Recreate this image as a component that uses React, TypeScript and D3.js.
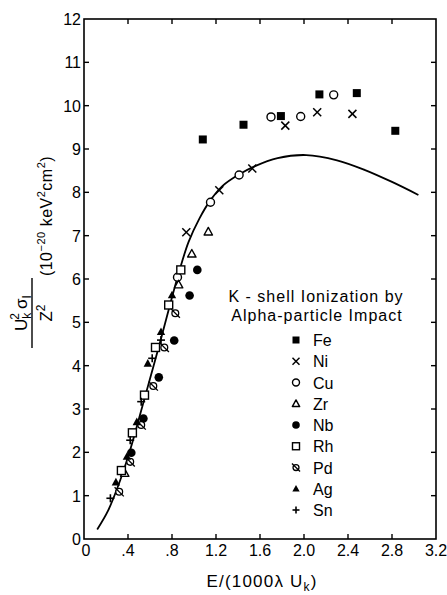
import * as d3 from 'd3'

const W = 447
const H = 595
const PLOT = { left: 84, right: 436, top: 19, bottom: 539 }
const FONT = '"Liberation Sans", Arial, sans-serif'

const X_TICKS = [0, 0.4, 0.8, 1.2, 1.6, 2.0, 2.4, 2.8, 3.2]
const X_TICK_LABELS = ['0', '.4', '.8', '1.2', '1.6', '2.0', '2.4', '2.8', '3.2']
const Y_TICKS = [0, 1, 2, 3, 4, 5, 6, 7, 8, 9, 10, 11, 12]

// measured points, [E/(1000 λ Uk), Uk² σI / Z²]
const FE = [[1.08, 9.22], [1.45, 9.56], [1.79, 9.76], [2.14, 10.26], [2.48, 10.29], [2.83, 9.42]]
const NI = [[0.93, 7.08], [1.23, 8.05], [1.53, 8.55], [1.83, 9.54], [2.12, 9.85], [2.44, 9.81]]
const CU = [[0.85, 6.04], [1.15, 7.77], [1.41, 8.40], [1.70, 9.74], [1.97, 9.75], [2.27, 10.25]]
const ZR = [[0.37, 1.52], [0.86, 5.87], [0.98, 6.58], [1.13, 7.09]]
const NB = [[0.43, 1.99], [0.54, 2.78], [0.68, 3.73], [0.82, 4.58], [0.96, 5.62], [1.03, 6.21]]
const RH = [[0.34, 1.58], [0.44, 2.45], [0.55, 3.32], [0.65, 4.42], [0.77, 5.40], [0.88, 6.21]]
const PD = [[0.32, 1.09], [0.42, 1.78], [0.52, 2.63], [0.63, 3.53], [0.73, 4.42], [0.83, 5.21]]
const AG = [[0.29, 1.31], [0.39, 1.90], [0.48, 2.70], [0.58, 4.05], [0.70, 4.78], [0.80, 5.63]]
const SN = [[0.24, 0.94], [0.42, 2.28], [0.52, 3.17], [0.62, 4.17], [0.70, 4.59]]

// theory curve
const CURVE_X = [0.12, 0.22, 0.33, 0.42, 0.50, 0.60, 0.70, 0.80, 0.88, 0.95, 1.05, 1.15, 1.26, 1.40, 1.55, 1.76, 2.02, 2.30, 2.55, 2.80, 3.04]
const CURVE_Y = [0.22, 0.66, 1.36, 2.06, 2.78, 3.70, 4.62, 5.58, 6.30, 6.85, 7.40, 7.82, 8.15, 8.40, 8.60, 8.79, 8.86, 8.74, 8.52, 8.24, 7.94]

const SERIES = [
  { name: 'Fe', kind: 'fsquare', pts: FE },
  { name: 'Ni', kind: 'cross', pts: NI },
  { name: 'Cu', kind: 'ocircle', pts: CU },
  { name: 'Zr', kind: 'otri', pts: ZR },
  { name: 'Nb', kind: 'fcircle', pts: NB },
  { name: 'Rh', kind: 'osquare', pts: RH },
  { name: 'Pd', kind: 'slash', pts: PD },
  { name: 'Ag', kind: 'ftri', pts: AG },
  { name: 'Sn', kind: 'plus', pts: SN },
]

function Marker({ kind, x, y, s }: { kind: string; x: number; y: number; s: number }) {
  const h = s / 2
  const sw = 1.4
  switch (kind) {
    case 'fsquare':
      return <rect x={x - h} y={y - h} width={s} height={s} fill="#000" />
    case 'osquare':
      return <rect x={x - h} y={y - h} width={s} height={s} fill="#fff" stroke="#000" strokeWidth={sw} />
    case 'ocircle':
      return <circle cx={x} cy={y} r={h} fill="#fff" stroke="#000" strokeWidth={sw} />
    case 'fcircle':
      return <circle cx={x} cy={y} r={h + 0.3} fill="#000" />
    case 'otri':
    case 'ftri': {
      const pts = `${x},${y - h * 1.1} ${x + h * 1.05},${y + h * 0.8} ${x - h * 1.05},${y + h * 0.8}`
      return kind === 'otri'
        ? <polygon points={pts} fill="#fff" stroke="#000" strokeWidth={sw} strokeLinejoin="round" />
        : <polygon points={pts} fill="#000" />
    }
    case 'cross':
      return (
        <g stroke="#000" strokeWidth={1.5}>
          <line x1={x - h} y1={y - h} x2={x + h} y2={y + h} />
          <line x1={x - h} y1={y + h} x2={x + h} y2={y - h} />
        </g>
      )
    case 'plus':
      return (
        <g stroke="#000" strokeWidth={1.6}>
          <line x1={x - h} y1={y} x2={x + h} y2={y} />
          <line x1={x} y1={y - h} x2={x} y2={y + h} />
        </g>
      )
    case 'slash':
      return (
        <g stroke="#000" strokeWidth={1.3}>
          <circle cx={x} cy={y} r={h * 0.85} fill="#fff" />
          <line x1={x - h * 1.15} y1={y - h * 1.15} x2={x + h * 1.15} y2={y + h * 1.15} />
        </g>
      )
    default:
      return null
  }
}

export default function App() {
  const x = d3.scaleLinear().domain([0, 3.2]).range([PLOT.left, PLOT.right])
  const y = d3.scaleLinear().domain([0, 12]).range([PLOT.bottom, PLOT.top])
  const curvePts = CURVE_X.map((cx, i) => [cx, CURVE_Y[i]] as [number, number])
  const line = d3.line<[number, number]>().x(d => x(d[0])).y(d => y(d[1])).curve(d3.curveCatmullRom.alpha(0.5))
  const tk = 5

  const legendX = 296
  const legendY0 = 340
  const legendStep = 21.25

  return (
    <svg width={W} height={H} style={{ position: 'absolute', left: 0, top: 0, background: '#fff' }} fontFamily={FONT}>
      <rect x={0} y={0} width={W} height={H} fill="#fff" />

      {/* frame */}
      <rect x={PLOT.left} y={PLOT.top} width={PLOT.right - PLOT.left} height={PLOT.bottom - PLOT.top}
        fill="none" stroke="#000" strokeWidth={1.6} />

      {/* ticks, inward on all four sides */}
      {X_TICKS.slice(1, -1).map(t => (
        <g key={'xt' + t} stroke="#000" strokeWidth={1.4}>
          <line x1={x(t)} x2={x(t)} y1={PLOT.bottom} y2={PLOT.bottom - tk} />
          <line x1={x(t)} x2={x(t)} y1={PLOT.top} y2={PLOT.top + tk} />
        </g>
      ))}
      {Y_TICKS.slice(1, -1).map(t => (
        <g key={'yt' + t} stroke="#000" strokeWidth={1.4}>
          <line x1={PLOT.left} x2={PLOT.left + tk} y1={y(t)} y2={y(t)} />
          <line x1={PLOT.right} x2={PLOT.right - tk} y1={y(t)} y2={y(t)} />
        </g>
      ))}

      {/* tick labels */}
      {X_TICKS.map((t, i) => (
        <text key={'xl' + t} x={x(t) + (i === 0 ? 2 : 0)} y={556} fontSize={16} textAnchor="middle">{X_TICK_LABELS[i]}</text>
      ))}
      {Y_TICKS.map(t => (
        <text key={'yl' + t} x={81} y={y(t) + 6} fontSize={16} textAnchor="end">{t}</text>
      ))}

      {/* x title */}
      <text x={262} y={587} fontSize={17} textAnchor="middle" letterSpacing={1.2}>
        E/(1000λ U<tspan fontSize={12} dy={4}>k</tspan><tspan dy={-4}>)</tspan>
      </text>

      {/* y title */}
      <g transform="translate(52,216) rotate(-90)">
        <text x={0} y={0} fontSize={16} textAnchor="middle" letterSpacing={0.5}>
          (10<tspan fontSize={11} dy={-7}>−20</tspan><tspan dy={7}> keV</tspan><tspan fontSize={11} dy={-7}>2</tspan><tspan dy={7}>cm</tspan><tspan fontSize={11} dy={-7}>2</tspan><tspan dy={7}>)</tspan>
        </text>
      </g>
      <g transform="translate(27,313) rotate(-90)">
        <text x={0} y={0} fontSize={17} textAnchor="middle">
          U<tspan fontSize={12} dy={4}>k</tspan><tspan fontSize={12} dx={-7} dy={-12}>2</tspan><tspan dx={4} dy={8}>σ</tspan><tspan fontSize={12} dy={4}>I</tspan>
        </text>
        <line x1={-35} x2={35} y1={5} y2={5} stroke="#000" strokeWidth={1.4} />
        <text x={0} y={25} fontSize={17} textAnchor="middle">
          Z<tspan fontSize={12} dy={-7}>2</tspan>
        </text>
      </g>

      {/* theory curve */}
      <path d={line(curvePts) ?? ''} fill="none" stroke="#000" strokeWidth={1.8} />

      {/* data */}
      {SERIES.map(s => (
        <g key={s.name}>
          {s.pts.map((p, i) => (
            <Marker key={i} kind={s.kind} x={x(p[0])} y={y(p[1])} s={8} />
          ))}
        </g>
      ))}

      {/* legend */}
      <text x={316} y={302} fontSize={16} textAnchor="middle" letterSpacing={1}>K - shell  Ionization by</text>
      <text x={317} y={321} fontSize={16} textAnchor="middle" letterSpacing={1}>Alpha-particle Impact</text>
      {SERIES.map((s, i) => (
        <g key={'lg' + s.name}>
          <Marker kind={s.kind} x={legendX} y={legendY0 + i * legendStep} s={7} />
          <text x={313} y={legendY0 + i * legendStep + 6} fontSize={16}>{s.name}</text>
        </g>
      ))}
    </svg>
  )
}
